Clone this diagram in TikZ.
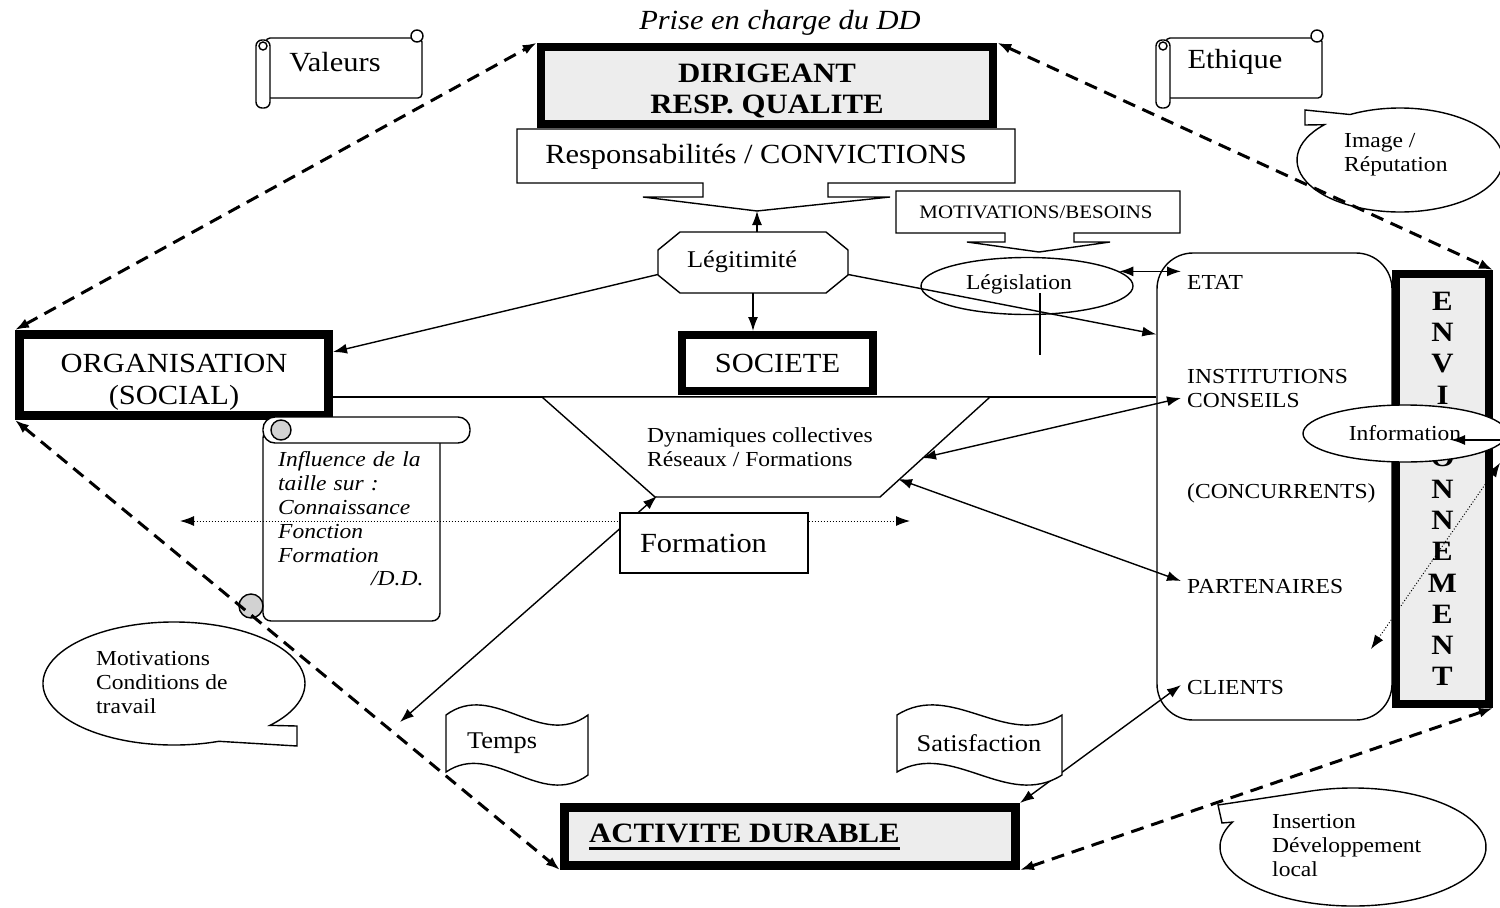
\documentclass[tikz,border=0pt]{standalone}
\usepackage{fontspec}
\setmainfont{Liberation Serif}[FakeStretch=1.1]
\usepackage{tikz}
\usetikzlibrary{arrows.meta}
\usetikzlibrary{calc}
\usetikzlibrary{shapes.geometric}
\tikzset{gros/.style={font=\fontsize{27.7}{32}\selectfont}}
\tikzset{grand/.style={font=\fontsize{24}{26}\selectfont}}
\tikzset{moyen/.style={font=\fontsize{21.4}{24}\selectfont}}
\tikzset{petit/.style={font=\fontsize{19}{20}\selectfont}}
\tikzset{gras/.style={font=\fontsize{28}{31.3}\selectfont\bfseries}}
\tikzset{ital/.style={font=\fontsize{21.4}{23.8}\selectfont\itshape}}
\tikzset{marbre/.style={fill=gray!14}}
\tikzset{epais/.style={draw, line width=8pt, fill=white, inner sep=0pt}}
\tikzset{boite/.style={draw, line width=1.4pt, fill=white, inner sep=0pt}}
\tikzset{fin/.style={line width=1.4pt}}
\tikzset{txt/.style={inner sep=0pt}}
\tikzset{tiret/.style={line width=3pt, dash pattern=on 13pt off 8pt, <->}}

\begin{document}
\begin{tikzpicture}[x=1pt, y=-1pt, >={Latex[length=14pt,width=10pt]}]
  \useasboundingbox (0,0) rectangle (1500,908);
  \node[gros, txt] (prise) at (780,23) {\itshape Prise en charge du DD};
  \node[epais, marbre, line width=8.5pt, minimum width=452pt, minimum height=77pt] (dir) at (767,85.5) {};
  \node[gras, txt, align=center] (dirtxt) at (767,91) {DIRIGEANT\\RESP. QUALITE};
  \draw[fin, fill=white] (517,129) -- (1015,129) -- (1015,183) -- (828,183) -- (828,197) -- (890,197) -- (757,211) -- (643,197) -- (703,197) -- (703,183) -- (517,183) -- cycle;
  \node[gros, txt] (resp) at (756,157) {Responsabilités / CONVICTIONS};
  \coordinate (resptip) at (757,211);
  \draw[fin, fill=white] (896,191) -- (1180,191) -- (1180,233) -- (1074,233) -- (1074,242) -- (1110,242) -- (1039,252) -- (967,242) -- (1005,242) -- (1005,233) -- (896,233) -- cycle;
  \node[petit, txt] (motiv) at (1036,212) {MOTIVATIONS/BESOINS};
  \node[draw, fin, ellipse, fill=white, minimum width=212pt, minimum height=57pt] (legis) at (1027,286) {};
  \node[moyen, txt] (legistxt) at (1019,284) {Législation};
  \draw[fin, fill=white] (680,232) -- (826,232) -- (848,250) -- (848,275) -- (826,293) -- (680,293) -- (658,275) -- (658,250) -- cycle;
  \node[txt, minimum width=190pt, minimum height=61pt] (leg) at (753,262.5) {};
  \node[grand, txt] (legtxt) at (742,262) {Légitimité};
  \node[epais, minimum width=191pt, minimum height=56pt, gros] (soc) at (777.5,363) {SOCIETE};
  \node[epais, line width=9pt, minimum width=309pt, minimum height=81pt] (org) at (174,375) {};
  \node[gros, txt, align=center] (orgtxt) at (174,382) {ORGANISATION\\(SOCIAL)};
  \node[draw, fin, fill=white, rounded corners=36pt, minimum width=235pt, minimum height=467pt] (parties) at (1274.5,486.5) {};
  \node[moyen, txt, anchor=west] (etat) at (1187,282) {ETAT};
  \node[moyen, txt, anchor=west, align=left] (inst) at (1187,389) {INSTITUTIONS\\CONSEILS};
  \node[moyen, txt, anchor=west] (conc) at (1187,493) {(CONCURRENTS)};
  \node[moyen, txt, anchor=west] (part) at (1187,587) {PARTENAIRES};
  \node[moyen, txt, anchor=west] (clients) at (1187,688) {CLIENTS};
  \node[epais, marbre, minimum width=93pt, minimum height=430pt, gras, align=center] (env) at (1442.5,489) {E\\N\\V\\I\\R\\O\\N\\N\\E\\M\\E\\N\\T};
  \node[epais, marbre, line width=9pt, minimum width=451pt, minimum height=58pt] (activite) at (790,836.5) {};
  \node[gras, txt, anchor=west] (actxt) at (589,833) {ACTIVITE DURABLE};
  \draw[line width=3pt] ($(actxt.base west)+(0,6)$) -- ($(actxt.base east)+(0,6)$);

  \draw[fin] ($(org.south east)+(0,-23)$) coordinate (ligne) -- (ligne -| parties.west);
  \draw[fin, fill=white] (542,397) -- (990,397) -- (880,497) -- (655,497) -- cycle;
  \node[moyen, txt, align=left] (dyn) at (760,447) {Dynamiques collectives\\Réseaux / Formations};
  \coordinate (dynA) at (922,458);
  \coordinate (dynB) at (898,479);
  \coordinate (dynC) at (657,496);

  \draw[fin, ->] (resptip |- leg.north) -- (resptip);
  \draw[fin, ->] (leg.south) -- (leg.south |- soc.north);
  \draw[fin, ->] ($(leg.west)+(0,12)$) -- ($(org.north east)+(0,22)$);
  \draw[fin, ->] ($(leg.east)+(0,12)$) -- ($(parties.north west)+(0,82)$);
  \draw[fin, <->] (legis.9) -- ($(legis.9 -| etat.west)+(-6,0)$);
  \draw[fin] ($(legis.center)+(13,7)$) -- ($(legis.center)+(13,69)$);
  \draw[fin, <->] (dynA) -- ($(inst.west)+(-6,9)$);
  \draw[fin, <->] (dynB) -- ($(part.west)+(-6,-6)$);
  \draw[fin, <->] (activite.north east) -- ($(clients.west)+(-6,-3)$);

  \draw[fin, fill=white, rounded corners=8pt] (263,430) -- (263,621) -- (440,621) -- (440,430) -- cycle;
  \draw[fin, fill=white, rounded corners=12pt] (263,417) rectangle (470,443);
  \draw[fin, fill=gray!35] (281,430) circle (10);
  \draw[fin, fill=gray!35] (251,606) circle (12);
  \node[ital, txt, anchor=west, text width=144pt, align=left] (influence) at (278,519) {Influence de la\\taille sur :\\Connaissance\\Fonction\\Formation\\\hspace*{93pt}/D.D.};
  \coordinate (pointL) at (180,521);
  \coordinate (pointR) at (910,521);
  \draw[line width=1pt, dotted, <->] (pointL) -- (pointR);
  \coordinate (tempsfl) at (400,722);
  \draw[fin, <->] (tempsfl) -- (dynC);
  \node[boite, gros, minimum height=60pt, text width=148pt, inner xsep=20pt, align=left] (form) at (714,543) {Formation};

  \foreach \dx/\nom/\txt in {0/valeurs/Valeurs, 900/ethique/Ethique} {
    \begin{scope}[xshift=\dx pt]
      \draw[fin, fill=white, rounded corners=4pt] (266,38) -- (422,38) -- (422,98) -- (266,98) -- cycle;
      \draw[fin, fill=white] (417,36) circle (6);
      \draw[fin, fill=white, rounded corners=6pt] (256,40) rectangle (270,108);
      \draw[fin] (263,46) circle (4);
      \node[gros, txt] (\nom) at (335,62) {\txt};
    \end{scope}
  }
  \draw[fin, fill=white] ($(1400,160)+(241:103 and 52)$) arc[start angle=241, end angle=582.8, x radius=103, y radius=52] -- (1305,125) -- (1305,110) -- cycle;
  \node[moyen, txt, anchor=west, align=left] (image) at (1344,155) {Image /\\Réputation};
  \draw[fin, fill=white] ($(174,683.5)+(70:131 and 61.5)$) arc[start angle=70, end angle=402.9, x radius=131, y radius=61.5] -- (297,726) -- (297,746) -- cycle;
  \node[moyen, txt, anchor=west, align=left] (motivtrav) at (96,683) {Motivations\\Conditions de\\travail};
  \draw[fin, fill=white] ($(1353,847)+(250:133 and 59)$) arc[start angle=250, end angle=565, x radius=133, y radius=59] -- (1222,823) -- (1218,805) -- cycle;
  \node[moyen, txt, anchor=west, align=left] (insertion) at (1272,846) {Insertion\\Développement\\local};
  \foreach \ga/\dr/\tx/\nom/\txt in {446/588/502/temps/Temps, 897/1062/979/satis/Satisfaction} {
    \draw[fin, fill=white] (\ga,715) .. controls ({\ga+(\dr-\ga)/3},680) and ({\ga+2*(\dr-\ga)/3},750) .. (\dr,715) -- (\dr,775) .. controls ({\ga+2*(\dr-\ga)/3},810) and ({\ga+(\dr-\ga)/3},740) .. (\ga,772) -- cycle;
    \node[grand, txt] (\nom) at (\tx,743) {\txt};
  }

  \draw[tiret] (org.north west) -- (dir.north west);
  \draw[tiret] (dir.north east) -- (env.north east);
  \draw[tiret] (org.south west) -- (activite.south west);
  \draw[tiret] (activite.south east) -- (env.south east);

  \coordinate (infodot) at (1500,463);
  \coordinate (infobas) at (1371,649);
  \draw[line width=1pt, dotted, <->] (infobas) -- (infodot);
  \node[draw, fin, ellipse, fill=white, minimum width=204pt, minimum height=57pt, moyen] (info) at (1405,433.5) {Information};
  \coordinate (infoext) at (1500,440);
  \draw[fin, ->] (infoext) -- ($(info.center)+(46,6.5)$);
\end{tikzpicture}
\end{document}
